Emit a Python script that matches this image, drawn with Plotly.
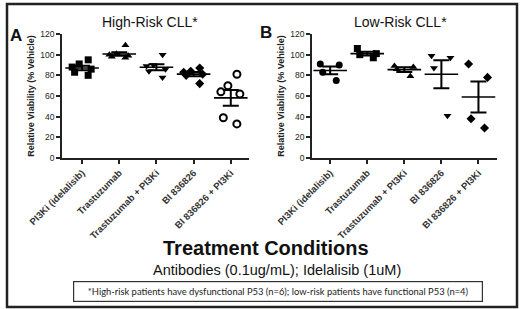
import numpy as np
import plotly.graph_objects as go
from plotly.subplots import make_subplots

categories = ["PI3Ki (idelalisib)", "Trastuzumab", "Trastuzumab + PI3Ki", "BI 836826", "BI 836826 + PI3Ki"]

# High-risk CLL (n=6)
high_pi3k = [95, 91, 88, 86, 83, 80]
high_trast = [109, 101, 100, 99, 98, 97]
high_trast_pi3k = [100, 90, 89, 86, 84, 78]
high_bi = [87, 84, 83, 81, 80, 72]
high_bi_pi3k = [81, 70, 64, 62, 39, 33]

# Low-risk CLL (n=4)
low_pi3k = [91, 90, 83, 75]
low_trast = [106, 101, 100, 97]
low_trast_pi3k = [89, 88, 86, 79]
low_bi = [99, 97, 87, 41]
low_bi_pi3k = [91, 78, 38, 29]

y_ticks = [0, 20, 40, 60, 80, 100, 120]

high = [high_pi3k, high_trast, high_trast_pi3k, high_bi, high_bi_pi3k]
low = [low_pi3k, low_trast, low_trast_pi3k, low_bi, low_bi_pi3k]
high_symbols = ["square", "triangle-up", "triangle-down", "diamond", "circle-open"]
low_symbols = ["circle", "square", "triangle-up", "triangle-down", "diamond"]

FONT = "Liberation Sans, Arial, sans-serif"
W, H = 520, 309

fig = make_subplots(rows=1, cols=2)

def add_panel(data, symbols, col):
    for cat, vals, sym in zip(categories, data, symbols):
        fig.add_trace(go.Box(
            x=[cat] * len(vals), y=vals, boxpoints="all", jitter=0.9, pointpos=0,
            width=0.7, fillcolor="rgba(0,0,0,0)", line=dict(width=0, color="rgba(0,0,0,0)"),
            marker=dict(symbol=sym, size=7, color="black",
                        line=dict(color="black", width=2 if "open" in sym else 0)),
            showlegend=False, hoverinfo="y"), row=1, col=col)
    means = [float(np.mean(v)) for v in data]
    sems = [float(np.std(v, ddof=1) / np.sqrt(len(v))) for v in data]
    fig.add_trace(go.Scatter(
        x=categories, y=means, mode="markers",
        marker=dict(symbol="line-ew", size=24, line=dict(color="black", width=1.6)),
        error_y=dict(type="data", array=sems, visible=True, color="black", thickness=2, width=8),
        showlegend=False), row=1, col=col)

add_panel(high, high_symbols, 1)
add_panel(low, low_symbols, 2)

def px_x(p):
    return p / W

def px_y(p):
    return 1 - p / H

fig.update_layout(
    width=W, height=H, margin=dict(l=0, r=0, t=0, b=0, autoexpand=False),
    paper_bgcolor="white", plot_bgcolor="white",
    boxmode="overlay", font=dict(family=FONT, color="#222"),
    xaxis=dict(domain=[px_x(62), px_x(249)], range=[-0.54, 4.49]),
    xaxis2=dict(domain=[px_x(312), px_x(497)], range=[-0.49, 4.5]),
    yaxis=dict(domain=[px_y(158), px_y(34)]),
    yaxis2=dict(domain=[px_y(158), px_y(34)]),
)

for ax in ["xaxis", "xaxis2"]:
    fig.layout[ax].update(
        type="category", categoryorder="array", categoryarray=categories, automargin=False,
        showline=True, linecolor="#222", linewidth=1.5, ticks="outside", ticklen=4,
        tickwidth=1.5, tickcolor="#222", tickangle=-45, showgrid=False, zeroline=False,
        tickprefix="<b>", ticksuffix="</b>",
        tickfont=dict(family=FONT, size=9.5, color="#333"))
for ax in ["yaxis", "yaxis2"]:
    fig.layout[ax].update(
        range=[0, 120], tickvals=y_ticks, showline=True, linecolor="#222", linewidth=1.5,
        automargin=False, tickprefix="<b>", ticksuffix="</b>",
        ticks="outside", ticklen=4, tickwidth=1.5, tickcolor="#222", showgrid=False,
        zeroline=False, tickfont=dict(family=FONT, size=8.5, color="#222"),
        title=dict(text="<b>Relative Viability (% Vehicle)</b>", standoff=4,
                   font=dict(family=FONT, size=9, color="#222")))

ann = [
    dict(text="High-Risk CLL*", x=px_x(150), y=px_y(22), font=dict(size=14)),
    dict(text="Low-Risk CLL*", x=px_x(400), y=px_y(22), font=dict(size=14)),
    dict(text="<b>A</b>", x=px_x(16), y=px_y(36), font=dict(size=17)),
    dict(text="<b>B</b>", x=px_x(266), y=px_y(33), font=dict(size=17)),
    dict(text="<b>Treatment Conditions</b>", x=px_x(266), y=px_y(248), font=dict(size=20)),
    dict(text="Antibodies (0.1ug/mL); Idelalisib (1uM)", x=px_x(277), y=px_y(270), font=dict(size=14.5)),
]
for a in ann:
    fig.add_annotation(xref="paper", yref="paper", showarrow=False,
                       xanchor="center", yanchor="middle",
                       font=dict(family=FONT, color="#111", size=a["font"]["size"]),
                       text=a["text"], x=a["x"], y=a["y"])

fig.add_annotation(xref="paper", yref="paper", showarrow=False, xanchor="center", yanchor="middle",
                   x=px_x(278), y=px_y(291.5),
                   text="*High-risk patients have dysfunctional P53 (n=6); low-risk patients have functional P53 (n=4)",
                   font=dict(family="Lato, sans-serif", size=9.4, color="#222"),
                   bordercolor="#333", borderwidth=1.2, borderpad=4, width=400, bgcolor="white")

fig.add_shape(type="rect", xref="paper", yref="paper",
              x0=px_x(7), x1=px_x(517), y0=px_y(307), y1=px_y(4),
              line=dict(color="#222", width=2.5))

fig.write_html("out.html", config={"displayModeBar": False},
               post_script="document.body.style.margin='0px';")
